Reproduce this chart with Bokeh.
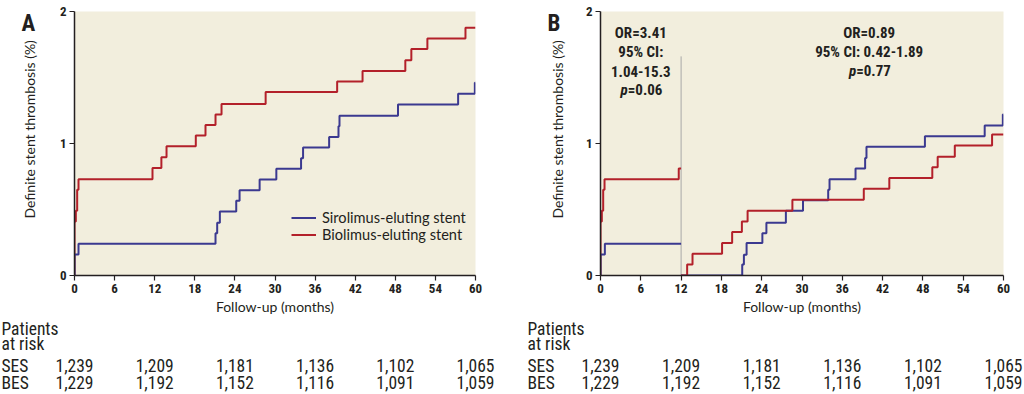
import math
from bokeh.plotting import figure
from bokeh.models import Label, Legend, LegendItem, FixedTicker, Range1d
from bokeh.layouts import row, column
from bokeh.core.properties import value
from bokeh.embed import file_html
from bokeh.resources import INLINE

# ---------------- data ----------------
month_ticks = [0, 6, 12, 18, 24, 30, 36, 42, 48, 54, 60]
pct_ticks = [0, 1, 2]

# Panel A: cumulative definite stent thrombosis (%), step curves
a_ses_t = [0, 0, 0.6, 21.1, 21.35, 21.75, 24.2, 24.7, 27.7, 30.2, 33.9, 34.2, 38.1, 39.5, 39.65, 48.4, 57.4, 59.9, 60]
a_ses_v = [0, 0.16, 0.24, 0.32, 0.40, 0.485, 0.566, 0.646, 0.727, 0.808, 0.889, 0.97, 1.05, 1.13, 1.21, 1.295, 1.376, 1.46, 1.46]
a_bes_t = [0, 0, 0.2, 0.4, 0.6, 11.67, 13.0, 13.77, 18.15, 19.6, 21.1, 22.0, 28.6, 39.3, 43.1, 49.5, 50.4, 52.8, 58.5, 60]
a_bes_v = [0, 0.41, 0.49, 0.65, 0.73, 0.815, 0.896, 0.98, 1.06, 1.14, 1.22, 1.30, 1.39, 1.47, 1.55, 1.63, 1.715, 1.795, 1.876, 1.876]

# Panel B: landmark analysis at 12 months
landmark = 12
landmark_line_top = 1.66
b1_ses_t = [0, 0, 0.65, 12]
b1_ses_v = [0, 0.16, 0.24, 0.24]
b1_bes_t = [0, 0, 0.2, 0.4, 0.6, 11.65, 12]
b1_bes_v = [0, 0.41, 0.49, 0.65, 0.73, 0.81, 0.81]
b2_ses_t = [12, 21.1, 21.35, 21.75, 24.1, 24.7, 27.6, 30.15, 33.9, 34.1, 37.97, 39.4, 39.6, 48.3, 57.2, 59.9, 60]
b2_ses_v = [0, 0.083, 0.158, 0.247, 0.32, 0.40, 0.49, 0.57, 0.65, 0.73, 0.81, 0.89, 0.975, 1.055, 1.136, 1.22, 1.22]
b2_bes_t = [12, 12.9, 13.7, 18.1, 19.6, 21.05, 21.9, 28.57, 39.2, 43.0, 49.4, 50.2, 52.75, 58.3, 60]
b2_bes_v = [0, 0.083, 0.165, 0.247, 0.33, 0.41, 0.49, 0.574, 0.657, 0.738, 0.82, 0.90, 0.985, 1.068, 1.068]

or_early = ["OR=3.41", "95% CI:", "1.04-15.3", "=0.06"]
or_late = ["OR=0.89", "95% CI: 0.42-1.89", "=0.77"]

risk_months = [0, 12, 24, 36, 48, 60]
ses_at_risk = ["1,239", "1,209", "1,181", "1,136", "1,102", "1,065"]
bes_at_risk = ["1,229", "1,192", "1,152", "1,116", "1,091", "1,059"]
risk_rows = ["Patients", "at risk", "SES", "BES"]
series_names = ["Sirolimus-eluting stent", "Biolimus-eluting stent"]
y_title = "Definite stent thrombosis (%)"
x_title = "Follow-up (months)"

# ---------------- style / layout ----------------
RED = "#B3202A"
BLUE = "#3B3990"
BG = "#F2EEDD"
INK = "#231F20"
NARROW = "Roboto Condensed"
REG = "Lato"

PANEL_W = 512
HC = 317            # chart row height
HT = 394 - HC       # risk table height
TOP = 11
FRAME_H = 265
PX = FRAME_H / 2.0  # px per percent
TEXT_SHIFT = 7      # measured drop of text drawn in the text-only canvases


def blank(width, height):
    # a text-only canvas whose data units are pixels, y measured upward
    f = figure(width=width, height=height, x_range=Range1d(0, width),
               y_range=Range1d(0, height), title=None,
               min_border=0, output_backend="svg", toolbar_location=None,
               x_axis_location=None, y_axis_location=None,
               outline_line_color=None, background_fill_color="white",
               border_fill_color="white")
    f.grid.visible = False
    return f


def make_strip(width, letter, letter_x, ylab_x):
    s = blank(width, HC)
    s.text(x=[letter_x], y=[HC - 21.5 + TEXT_SHIFT], text=[letter], text_font=value(NARROW),
           text_font_style="bold", text_font_size="23px", text_color=INK,
           text_align="left", text_baseline="alphabetic")
    s.text(x=[ylab_x], y=[HC - TOP - FRAME_H / 2.0 + 2], text=[y_title], angle=math.pi / 2,
           text_font=value(REG), text_font_size="14px", text_color=INK,
           text_align="center", text_baseline="middle")
    return s


def make_chart(width, left, right):
    p = figure(width=width, height=HC, x_range=(0, 60), y_range=(0, 2), title=None,
               min_border_left=left, min_border_right=right,
               min_border_top=TOP, min_border_bottom=HC - TOP - FRAME_H,
               output_backend="svg", toolbar_location=None,
               background_fill_color=BG, border_fill_color="white",
               outline_line_color=None)
    p.grid.visible = False
    for ax in (p.xaxis[0], p.yaxis[0]):
        ax.axis_line_color = INK
        ax.axis_line_width = 1.5
        ax.major_tick_line_color = INK
        ax.major_tick_line_width = 1.2
        ax.major_tick_out = 5
        ax.major_tick_in = 0
        ax.minor_tick_out = 0
        ax.minor_tick_in = 0
        ax.major_label_text_font = NARROW
        ax.major_label_text_font_style = "bold"
        ax.major_label_text_font_size = "13px"
        ax.major_label_text_color = INK
    p.xaxis.ticker = FixedTicker(ticks=month_ticks)
    p.yaxis.ticker = FixedTicker(ticks=pct_ticks)
    p.xaxis.axis_label = x_title
    p.xaxis.axis_label_text_font = REG
    p.xaxis.axis_label_text_font_style = "normal"
    p.xaxis.axis_label_text_font_size = "14px"
    p.xaxis.axis_label_text_color = INK
    p.xaxis.major_label_standoff = 3
    p.xaxis.axis_label_standoff = 2
    p.yaxis.major_label_standoff = 3
    return p


def make_table(frame_left, frame_w, label_x):
    # same month scale as the chart above it, spanning the whole panel width
    pxm = frame_w / 60.0
    t = blank(PANEL_W, HT)
    t.x_range = Range1d(-frame_left / pxm, (PANEL_W - frame_left) / pxm)
    baselines = [HT - (p - HC) + TEXT_SHIFT for p in (335, 350, 372, 389)]
    for name, yb in zip(risk_rows, baselines):
        t.add_layout(Label(x=label_x, x_units="screen", y=yb, text=name,
                           text_font=NARROW, text_font_size="17.5px", text_color=INK,
                           text_baseline="alphabetic", text_align="left"))
    for vals, yb in ((ses_at_risk, baselines[2]), (bes_at_risk, baselines[3])):
        t.text(x=risk_months, y=[yb] * len(vals), text=vals, text_font=value(NARROW),
               text_font_size="17.5px", text_color=INK,
               text_align="center", text_baseline="alphabetic")
    return t


# ---------------- panel A ----------------
SA = 40
stripA = make_strip(SA, "A", 21, 29)
pA = make_chart(PANEL_W - SA, 74 - SA, PANEL_W - 475)
rb = pA.step(a_bes_t, a_bes_v, mode="after", line_color=RED, line_width=2)
rs = pA.step(a_ses_t, a_ses_v, mode="after", line_color=BLUE, line_width=2)
leg = Legend(items=[LegendItem(label=series_names[0], renderers=[rs]),
                    LegendItem(label=series_names[1], renderers=[rb])],
             location=(217, 32), background_fill_alpha=0, border_line_color=None,
             padding=0, margin=0, spacing=0, label_standoff=6,
             glyph_width=25, glyph_height=17, label_height=17,
             label_text_font=REG, label_text_font_size="14.6px", label_text_color=INK)
pA.add_layout(leg)
tableA = make_table(74, 401, 1)

# ---------------- panel B ----------------
SB = 54
stripB = make_strip(SB, "B", 35, 44.5)
pB = make_chart(PANEL_W - SB, 600 - 512 - SB, 1024 - 1003)
pB.segment(x0=[landmark], y0=[0], x1=[landmark], y1=[landmark_line_top],
           line_color="#A8A8A8", line_width=1)
pB.step(b1_bes_t, b1_bes_v, mode="after", line_color=RED, line_width=2)
pB.step(b1_ses_t, b1_ses_v, mode="after", line_color=BLUE, line_width=2)
pB.step(b2_ses_t, b2_ses_v, mode="after", line_color=BLUE, line_width=2)
pB.step(b2_bes_t, b2_bes_v, mode="after", line_color=RED, line_width=2)
tableB = make_table(600 - 512, 403, 15)


def or_block(p, xc, lines, first_off):
    n = len(lines)
    for i, t in enumerate(lines):
        yy = 2 - (first_off + 19 * i) / PX
        kw = dict(x=xc, y=yy, text_font=NARROW, text_font_size="15px",
                  text_color=INK, text_baseline="middle")
        if i == n - 1:
            p.add_layout(Label(x_offset=-13, text="p", text_font_style="bold italic",
                               text_align="right", **kw))
            p.add_layout(Label(x_offset=-13, text=t, text_font_style="bold",
                               text_align="left", **kw))
        else:
            p.add_layout(Label(text=t, text_font_style="bold", text_align="center", **kw))


or_block(pB, 6, or_early, 22)
or_block(pB, 40, or_late, 22)

panelA = column(row(stripA, pA), tableA)
panelB = column(row(stripB, pB), tableB)
layout = row(panelA, panelB)
open("out.html", "w").write(file_html(layout, INLINE))
